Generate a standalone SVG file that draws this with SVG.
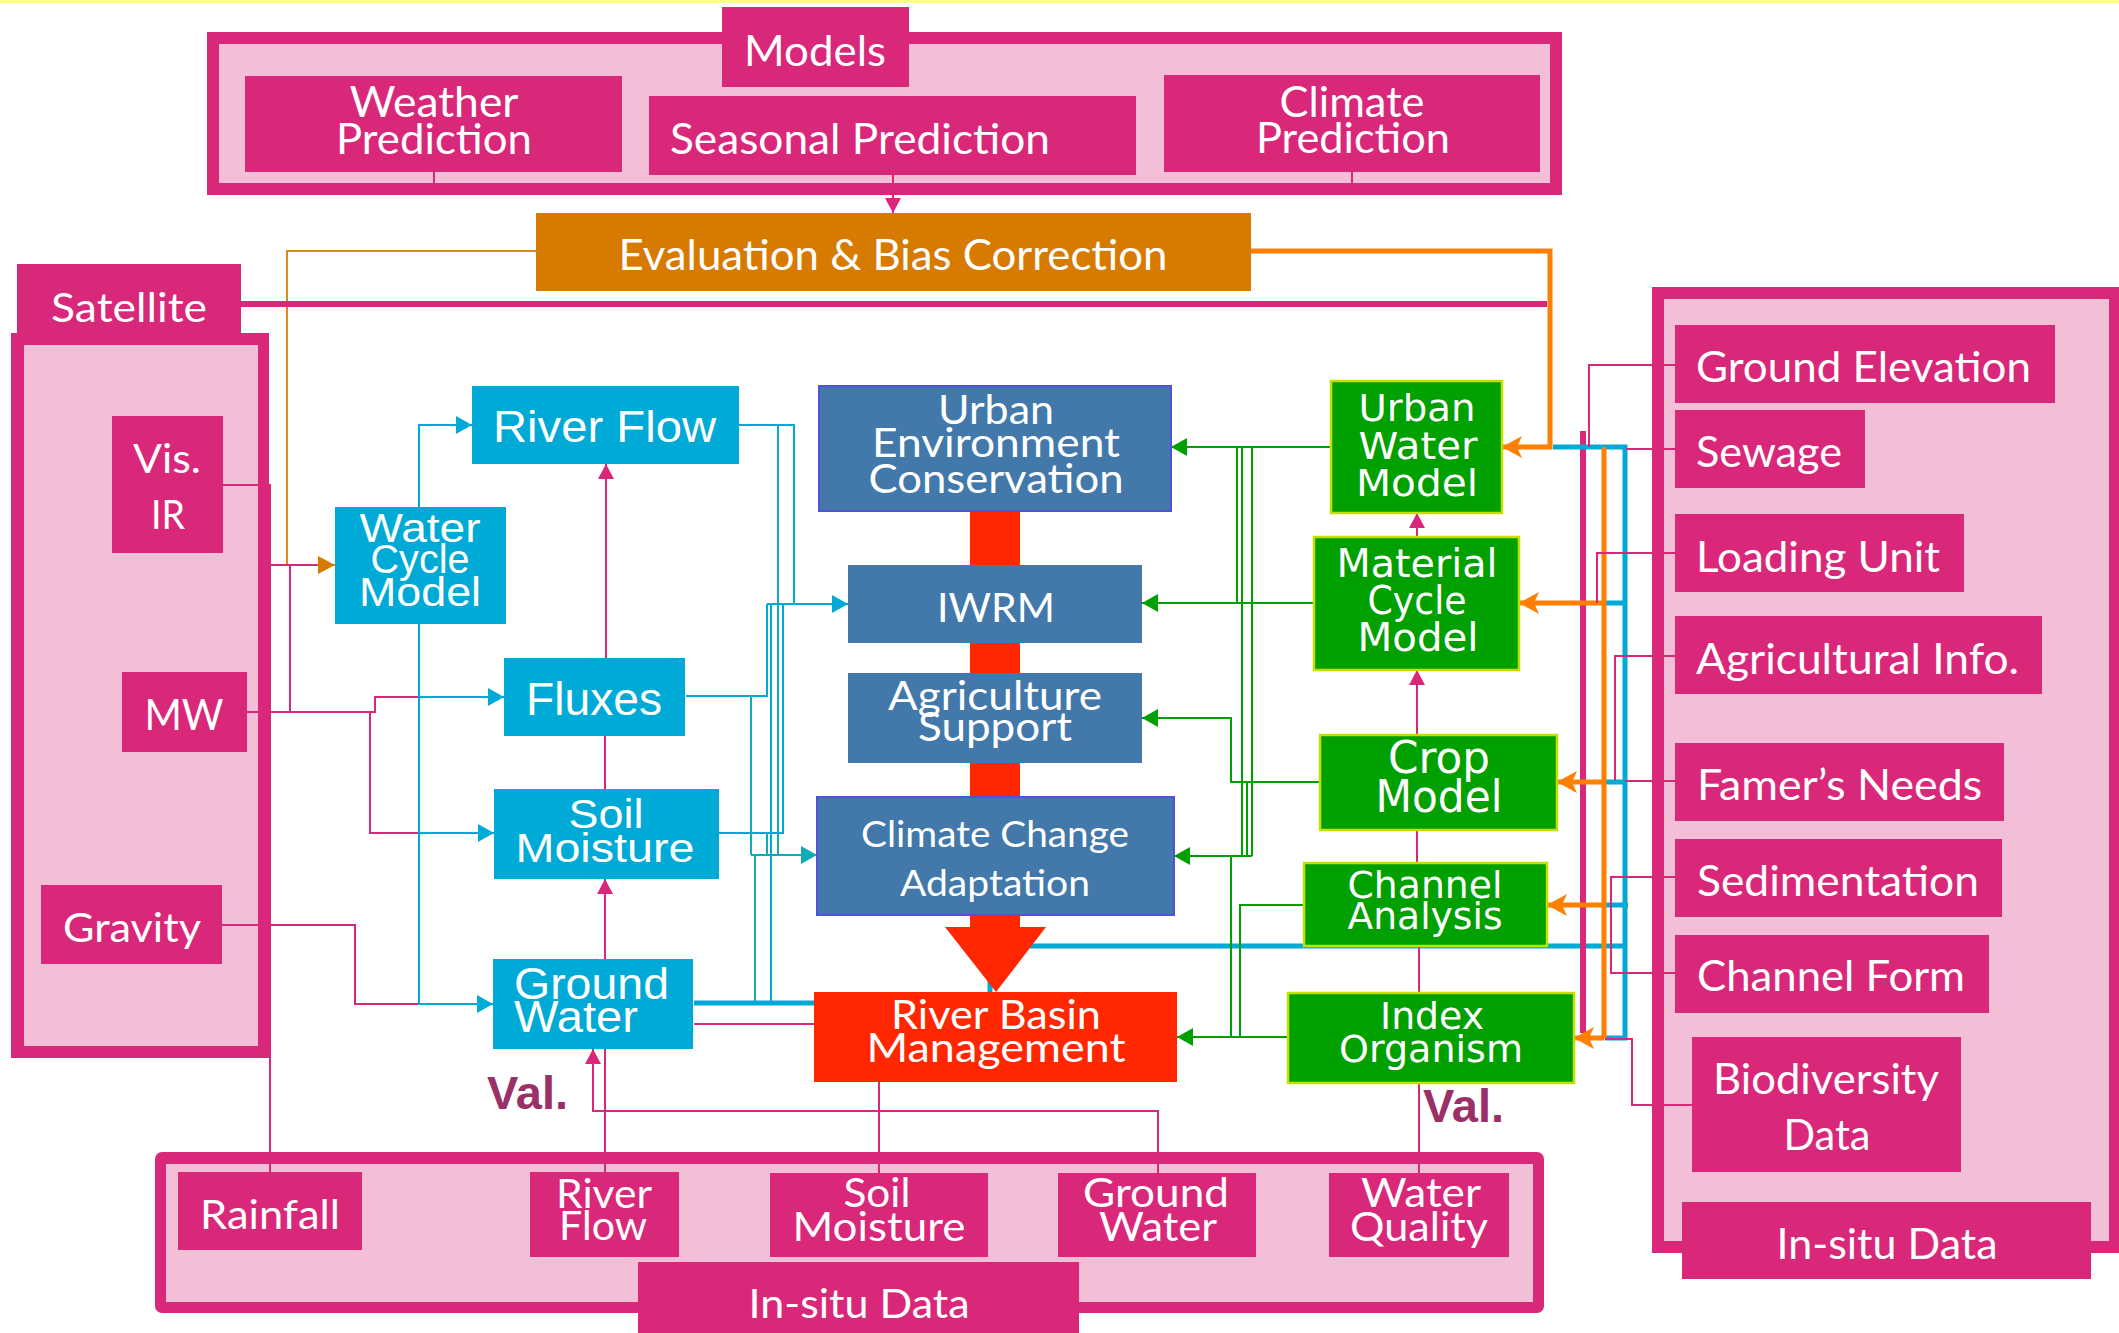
<svg xmlns="http://www.w3.org/2000/svg" width="2119" height="1333" viewBox="0 0 2119 1333">
<defs>
<style>
.mag{fill:#D9287A}
.pk{fill:#F3BFD6}
.cy{fill:#00AAD6}
.st{fill:#4279AA}
.stb{fill:#4279AA;stroke:#5252D8;stroke-width:2}
.gr{fill:#00A000;stroke:#C4E000;stroke-width:2.5}
.rd{fill:#FF2600}
.tw{fill:#fff;font-family:Lato,"Open Sans",sans-serif}
.ta{fill:#fff;font-family:"Liberation Sans",Arial,sans-serif}
.tv{fill:#fff;font-family:"DejaVu Sans",Verdana,sans-serif}
.val{fill:#9B3067;font-family:"Liberation Sans",Arial,sans-serif;font-weight:bold;font-size:47px}
.lp{fill:none;stroke:#D9287A;stroke-width:2}
.lb{fill:none;stroke:#00AAD6;stroke-width:2}
.lt{fill:none;stroke:#12AAB4;stroke-width:2}
.lg{fill:none;stroke:#00A000;stroke-width:2}
.lo{fill:none;stroke:#FF7F00;stroke-width:5}
.lpT{fill:none;stroke:#D9287A;stroke-width:6}
.lbT{fill:none;stroke:#00AAD6;stroke-width:5}
</style>
<marker id="aP" markerUnits="userSpaceOnUse" markerWidth="16" markerHeight="16" refX="15" refY="8" orient="auto"><path d="M0,0 L15,8 L0,16 Z" fill="#D9287A"/></marker>
<marker id="aB" markerUnits="userSpaceOnUse" markerWidth="17" markerHeight="18" refX="16" refY="9" orient="auto"><path d="M0,0 L16,9 L0,18 Z" fill="#00AAD6"/></marker>
<marker id="aT" markerUnits="userSpaceOnUse" markerWidth="17" markerHeight="18" refX="16" refY="9" orient="auto"><path d="M0,0 L16,9 L0,18 Z" fill="#12AAB4"/></marker>
<marker id="aG" markerUnits="userSpaceOnUse" markerWidth="17" markerHeight="18" refX="16" refY="9" orient="auto"><path d="M0,0 L16,9 L0,18 Z" fill="#00A000"/></marker>
<marker id="aO" markerUnits="userSpaceOnUse" markerWidth="21" markerHeight="22" refX="20" refY="11" orient="auto"><path d="M0,0 L20,11 L0,22 L5,11 Z" fill="#FF7F00"/></marker>
<marker id="aE" markerUnits="userSpaceOnUse" markerWidth="18" markerHeight="18" refX="17" refY="9" orient="auto"><path d="M0,0 L17,9 L0,18 Z" fill="#D67A00"/></marker>
</defs>

<!-- top strip -->
<rect x="0" y="0" width="2119" height="3" fill="#FFFF80"/>

<!-- container frames -->
<g id="models-frame">
<rect class="mag" x="207" y="32" width="1355" height="163"/>
<rect class="pk" x="219" y="44" width="1331" height="139"/>
</g>
<g id="satellite-frame">
<rect class="mag" x="11" y="333" width="258" height="725"/>
<rect class="pk" x="24" y="345" width="234" height="701"/>
</g>
<g id="insitu-bottom-frame">
<rect class="mag" x="155" y="1152" width="1389" height="161" rx="7"/>
<rect class="pk" x="166" y="1164" width="1367" height="138"/>
</g>
<g id="insitu-right-frame">
<rect class="mag" x="1652" y="287" width="480" height="966"/>
<rect class="pk" x="1664" y="299" width="445" height="942"/>
</g>

<!-- red backbone behind the management boxes -->
<rect class="rd" x="970" y="505" width="50" height="425"/>

<g id="connectors">
<!-- models to evaluation -->
<path class="lp" d="M434,172 V183"/>
<path class="lp" d="M1352,172 V183"/>
<path class="lp" d="M893,175 V213" marker-end="url(#aP)"/>
<!-- evaluation outputs -->
<path d="M536,251 H287 V565 H335" fill="none" stroke="#D98A20" stroke-width="2" marker-end="url(#aE)"/>
<path class="lo" d="M1251,251 H1550 V447 H1502" marker-end="url(#aO)"/>
<!-- satellite bus -->
<path class="lpT" d="M241,304 H1547" stroke-width="5"/>
<!-- satellite sensors -->
<path class="lp" d="M223,485 H270 V1172"/>
<path class="lp" d="M270,565 H318"/>
<path class="lp" d="M290,565 V712"/>
<path class="lp" d="M247,712 H375 V697 H419"/>
<path class="lp" d="M370,712 V833 H419"/>
<path class="lp" d="M222,925 H355 V1004 H419"/>
<!-- water cycle model distribution -->
<path class="lb" d="M419,507 V425 H472" marker-end="url(#aB)"/>
<path class="lb" d="M419,624 V1004 H493" marker-end="url(#aB)"/>
<path class="lb" d="M419,697 H504" marker-end="url(#aB)"/>
<path class="lb" d="M419,833 H494" marker-end="url(#aB)"/>
<!-- vertical chain through hydrology boxes -->
<path class="lp" d="M605,959 V879" marker-end="url(#aP)"/>
<path class="lp" d="M605,789 V736"/>
<path class="lp" d="M606,658 V464" marker-end="url(#aP)"/>
<path class="lp" d="M605,1172 V1049"/>
<path class="lp" d="M1158,1173 V1111 H593 V1049" marker-end="url(#aP)"/>
<!-- hydrology to management -->
<path class="lb" d="M739,425 H794 V604"/>
<path class="lt" d="M778,425 V855"/>
<path class="lb" d="M686,696 H767 V604"/>
<path class="lb" d="M719,833 H783 V604"/>
<path class="lt" d="M751,696 V855"/>
<path class="lt" d="M767,833 V855"/>
<path class="lt" d="M755,1003 V855"/>
<path class="lb" d="M771,1003 V604"/>
<path class="lb" d="M767,604 H848" marker-end="url(#aB)"/>
<path class="lt" d="M751,855 H817" marker-end="url(#aT)"/>
<path class="lbT" d="M694,1003 H814" stroke-width="4"/>
<path class="lp" d="M694,1024 H814"/>
<path class="lbT" d="M1625,946 H990 V992" stroke-width="4"/>
<!-- management to in-situ -->
<path class="lp" d="M879,1082 V1173"/>
<path class="lp" d="M1419,1083 V1173"/>
<!-- green model chain -->
<path class="lp" d="M1417,735 V670" marker-end="url(#aP)"/>
<path class="lp" d="M1417,537 V513" marker-end="url(#aP)"/>
<path class="lp" d="M1417,830 V863"/>
<path class="lp" d="M1419,946 V993"/>
<!-- green models to management -->
<path class="lg" d="M1331,447 H1171" marker-end="url(#aG)"/>
<path class="lg" d="M1237,447 V603"/>
<path class="lg" d="M1242,447 V856"/>
<path class="lg" d="M1252,447 V856"/>
<path class="lg" d="M1314,603 H1142" marker-end="url(#aG)"/>
<path class="lg" d="M1320,782 H1231 V718 H1142" marker-end="url(#aG)"/>
<path class="lg" d="M1247,782 V856"/>
<path class="lg" d="M1252,856 H1174" marker-end="url(#aG)"/>
<path class="lg" d="M1231,856 V1037"/>
<path class="lg" d="M1304,905 H1240 V1037"/>
<path class="lg" d="M1288,1037 H1177" marker-end="url(#aG)"/>
<!-- right-hand buses -->
<path class="lpT" d="M1583,431 V1033"/>
<path class="lbT" d="M1553,447 H1625 V1038 H1605"/>
<path class="lbT" d="M1605,603 H1625 M1605,782 H1625 M1605,905 H1628"/>
<path class="lo" d="M1604,447 V1038"/>
<path class="lo" d="M1604,603 H1519" marker-end="url(#aO)"/>
<path class="lo" d="M1604,782 H1557" marker-end="url(#aO)"/>
<path class="lo" d="M1604,905 H1547" marker-end="url(#aO)"/>
<path class="lo" d="M1604,1038 H1574" marker-end="url(#aO)"/>
<!-- right in-situ data links -->
<path class="lp" d="M1675,365 H1589 V447"/>
<path class="lp" d="M1675,449 H1626"/>
<path class="lp" d="M1675,553 H1597 V603"/>
<path class="lp" d="M1675,656 H1615 V780"/>
<path class="lp" d="M1675,781 H1625"/>
<path class="lp" d="M1675,877 H1611 V973 H1675"/>
<path class="lp" d="M1692,1105 H1632 V1039 H1605"/>
</g>

<!-- model boxes -->
<g id="models"><rect class="mag" x="722" y="7" width="187" height="80"/><text class="tw" x="815" y="66" font-size="42" text-anchor="middle" textLength="142" lengthAdjust="spacingAndGlyphs">Models</text></g>
<g id="weather"><rect class="mag" x="245" y="76" width="377" height="96"/><text class="tw" x="434" y="117" font-size="42" text-anchor="middle" textLength="169" lengthAdjust="spacingAndGlyphs">Weather</text><text class="tw" x="434" y="154" font-size="42" text-anchor="middle" textLength="196" lengthAdjust="spacingAndGlyphs">Prediction</text></g>
<g id="seasonal"><rect class="mag" x="649" y="96" width="487" height="79"/><text class="tw" x="860" y="154" font-size="42" text-anchor="middle" textLength="380" lengthAdjust="spacingAndGlyphs">Seasonal Prediction</text></g>
<g id="climate"><rect class="mag" x="1164" y="75" width="376" height="97"/><text class="tw" x="1352" y="117" font-size="42" text-anchor="middle" textLength="145" lengthAdjust="spacingAndGlyphs">Climate</text><text class="tw" x="1353" y="153" font-size="42" text-anchor="middle" textLength="194" lengthAdjust="spacingAndGlyphs">Prediction</text></g>
<g id="evaluation"><rect x="536" y="213" width="715" height="78" fill="#D67A00"/><text class="tw" x="893" y="270" font-size="42" text-anchor="middle" textLength="549" lengthAdjust="spacingAndGlyphs">Evaluation &amp; Bias Correction</text></g>

<!-- satellite sensors -->
<g id="satellite"><rect class="mag" x="17" y="264" width="224" height="70"/><text class="tw" x="129" y="322" font-size="40" text-anchor="middle" textLength="156" lengthAdjust="spacingAndGlyphs">Satellite</text></g>
<g id="vis-ir"><rect class="mag" x="112" y="416" width="111" height="137"/><text class="tw" x="167" y="473" font-size="40" text-anchor="middle" textLength="68" lengthAdjust="spacingAndGlyphs">Vis.</text><text class="tw" x="168" y="529" font-size="40" text-anchor="middle" textLength="34" lengthAdjust="spacingAndGlyphs">IR</text></g>
<g id="mw"><rect class="mag" x="122" y="672" width="125" height="80"/><text class="tw" x="184" y="730" font-size="42" text-anchor="middle" textLength="79" lengthAdjust="spacingAndGlyphs">MW</text></g>
<g id="gravity"><rect class="mag" x="41" y="885" width="181" height="79"/><text class="tw" x="132" y="942" font-size="40" text-anchor="middle" textLength="138" lengthAdjust="spacingAndGlyphs">Gravity</text></g>

<!-- hydrology boxes -->
<g id="water-cycle-model"><rect class="cy" x="335" y="507" width="171" height="117"/><text class="ta" x="420" y="542" font-size="40" text-anchor="middle" textLength="121" lengthAdjust="spacingAndGlyphs">Water</text><text class="ta" x="420" y="573" font-size="40" text-anchor="middle" textLength="99" lengthAdjust="spacingAndGlyphs">Cycle</text><text class="ta" x="420" y="606" font-size="40" text-anchor="middle" textLength="122" lengthAdjust="spacingAndGlyphs">Model</text></g>
<g id="river-flow"><rect class="cy" x="472" y="386" width="267" height="78"/><text class="ta" x="493" y="442" font-size="44" textLength="223" lengthAdjust="spacingAndGlyphs">River Flow</text></g>
<g id="fluxes"><rect class="cy" x="504" y="658" width="181" height="78"/><text class="ta" x="526" y="715" font-size="46" textLength="136" lengthAdjust="spacingAndGlyphs">Fluxes</text></g>
<g id="soil-moisture"><rect class="cy" x="494" y="789" width="225" height="90"/><text class="ta" x="606" y="828" font-size="41" text-anchor="middle" textLength="75" lengthAdjust="spacingAndGlyphs">Soil</text><text class="ta" x="605" y="862" font-size="41" text-anchor="middle" textLength="179" lengthAdjust="spacingAndGlyphs">Moisture</text></g>
<g id="ground-water"><rect class="cy" x="493" y="959" width="200" height="90"/><text class="ta" x="514" y="999" font-size="44" textLength="155" lengthAdjust="spacingAndGlyphs">Ground</text><text class="ta" x="514" y="1032" font-size="44" textLength="124" lengthAdjust="spacingAndGlyphs">Water</text></g>

<!-- management boxes -->
<g id="urban-environment"><rect class="stb" x="819" y="386" width="352" height="125"/><text class="tw" x="996" y="424" font-size="40" text-anchor="middle" textLength="116" lengthAdjust="spacingAndGlyphs">Urban</text><text class="tw" x="996" y="457" font-size="40" text-anchor="middle" textLength="248" lengthAdjust="spacingAndGlyphs">Environment</text><text class="tw" x="996" y="493" font-size="40" text-anchor="middle" textLength="255" lengthAdjust="spacingAndGlyphs">Conservation</text></g>
<g id="iwrm"><rect class="st" x="848" y="565" width="294" height="78"/><text class="tw" x="996" y="622" font-size="40" text-anchor="middle" textLength="118" lengthAdjust="spacingAndGlyphs">IWRM</text></g>
<g id="agriculture-support"><rect class="st" x="848" y="673" width="294" height="90"/><text class="tw" x="995" y="710" font-size="40" text-anchor="middle" textLength="214" lengthAdjust="spacingAndGlyphs">Agriculture</text><text class="tw" x="995" y="741" font-size="40" text-anchor="middle" textLength="154" lengthAdjust="spacingAndGlyphs">Support</text></g>
<g id="climate-change-adaptation"><rect class="stb" x="817" y="797" width="357" height="118"/><text class="tw" x="995" y="847" font-size="37" text-anchor="middle" textLength="268" lengthAdjust="spacingAndGlyphs">Climate Change</text><text class="tw" x="995" y="896" font-size="37" text-anchor="middle" textLength="190" lengthAdjust="spacingAndGlyphs">Adaptation</text></g>
<g id="red-arrow"><path class="rd" d="M945,927 H1046 L996,992 Z"/></g>
<g id="river-basin-management"><rect class="rd" x="814" y="992" width="363" height="90"/><text class="tw" x="996" y="1029" font-size="40" text-anchor="middle" textLength="210" lengthAdjust="spacingAndGlyphs">River Basin</text><text class="tw" x="996" y="1062" font-size="40" text-anchor="middle" textLength="259" lengthAdjust="spacingAndGlyphs">Management</text></g>

<!-- green models -->
<g id="urban-water-model"><rect class="gr" x="1331" y="381" width="171" height="132"/><text class="tv" x="1417" y="421" font-size="38" text-anchor="middle" textLength="117" lengthAdjust="spacingAndGlyphs">Urban</text><text class="tv" x="1418" y="459" font-size="38" text-anchor="middle" textLength="119" lengthAdjust="spacingAndGlyphs">Water</text><text class="tv" x="1417" y="496" font-size="38" text-anchor="middle" textLength="122" lengthAdjust="spacingAndGlyphs">Model</text></g>
<g id="material-cycle-model"><rect class="gr" x="1314" y="537" width="205" height="133"/><text class="tv" x="1417" y="577" font-size="39" text-anchor="middle" textLength="161" lengthAdjust="spacingAndGlyphs">Material</text><text class="tv" x="1417" y="614" font-size="39" text-anchor="middle" textLength="99" lengthAdjust="spacingAndGlyphs">Cycle</text><text class="tv" x="1418" y="651" font-size="39" text-anchor="middle" textLength="121" lengthAdjust="spacingAndGlyphs">Model</text></g>
<g id="crop-model"><rect class="gr" x="1320" y="735" width="237" height="95"/><text class="tv" x="1439" y="773" font-size="44" text-anchor="middle" textLength="102" lengthAdjust="spacingAndGlyphs">Crop</text><text class="tv" x="1439" y="812" font-size="44" text-anchor="middle" textLength="127" lengthAdjust="spacingAndGlyphs">Model</text></g>
<g id="channel-analysis"><rect class="gr" x="1304" y="863" width="243" height="83"/><text class="tv" x="1425" y="898" font-size="38" text-anchor="middle" textLength="155" lengthAdjust="spacingAndGlyphs">Channel</text><text class="tv" x="1425" y="929" font-size="38" text-anchor="middle" textLength="155" lengthAdjust="spacingAndGlyphs">Analysis</text></g>
<g id="index-organism"><rect class="gr" x="1288" y="993" width="286" height="90"/><text class="tv" x="1432" y="1029" font-size="38" text-anchor="middle" textLength="104" lengthAdjust="spacingAndGlyphs">Index</text><text class="tv" x="1431" y="1062" font-size="38" text-anchor="middle" textLength="184" lengthAdjust="spacingAndGlyphs">Organism</text></g>

<!-- validation labels -->
<text class="val" x="487" y="1109" textLength="81" lengthAdjust="spacingAndGlyphs">Val.</text>
<text class="val" x="1423" y="1122" textLength="81" lengthAdjust="spacingAndGlyphs">Val.</text>

<!-- in-situ data, bottom -->
<g id="rainfall"><rect class="mag" x="178" y="1172" width="184" height="78"/><text class="tw" x="270" y="1229" font-size="40" text-anchor="middle" textLength="140" lengthAdjust="spacingAndGlyphs">Rainfall</text></g>
<g id="river-flow-obs"><rect class="mag" x="530" y="1172" width="149" height="85"/><text class="tw" x="604" y="1208" font-size="40" text-anchor="middle" textLength="96" lengthAdjust="spacingAndGlyphs">River</text><text class="tw" x="603" y="1240" font-size="40" text-anchor="middle" textLength="88" lengthAdjust="spacingAndGlyphs">Flow</text></g>
<g id="soil-moisture-obs"><rect class="mag" x="770" y="1173" width="218" height="84"/><text class="tw" x="877" y="1207" font-size="40" text-anchor="middle" textLength="67" lengthAdjust="spacingAndGlyphs">Soil</text><text class="tw" x="879" y="1241" font-size="40" text-anchor="middle" textLength="173" lengthAdjust="spacingAndGlyphs">Moisture</text></g>
<g id="ground-water-obs"><rect class="mag" x="1058" y="1173" width="198" height="84"/><text class="tw" x="1156" y="1207" font-size="40" text-anchor="middle" textLength="146" lengthAdjust="spacingAndGlyphs">Ground</text><text class="tw" x="1158" y="1241" font-size="40" text-anchor="middle" textLength="118" lengthAdjust="spacingAndGlyphs">Water</text></g>
<g id="water-quality"><rect class="mag" x="1329" y="1173" width="180" height="84"/><text class="tw" x="1421" y="1207" font-size="40" text-anchor="middle" textLength="120" lengthAdjust="spacingAndGlyphs">Water</text><text class="tw" x="1419" y="1241" font-size="40" text-anchor="middle" textLength="138" lengthAdjust="spacingAndGlyphs">Quality</text></g>
<g id="insitu-bottom-tab"><rect class="mag" x="638" y="1262" width="441" height="75"/><text class="tw" x="859" y="1318" font-size="40" text-anchor="middle" textLength="221" lengthAdjust="spacingAndGlyphs">In-situ Data</text></g>

<!-- in-situ data, right -->
<g id="ground-elevation"><rect class="mag" x="1675" y="325" width="380" height="78"/><text class="tw" x="1696" y="382" font-size="43" textLength="335" lengthAdjust="spacingAndGlyphs">Ground Elevation</text></g>
<g id="sewage"><rect class="mag" x="1675" y="410" width="190" height="78"/><text class="tw" x="1696" y="467" font-size="43" textLength="146" lengthAdjust="spacingAndGlyphs">Sewage</text></g>
<g id="loading-unit"><rect class="mag" x="1675" y="514" width="289" height="78"/><text class="tw" x="1696" y="572" font-size="43" textLength="244" lengthAdjust="spacingAndGlyphs">Loading Unit</text></g>
<g id="agricultural-info"><rect class="mag" x="1675" y="616" width="367" height="78"/><text class="tw" x="1696" y="674" font-size="43" textLength="323" lengthAdjust="spacingAndGlyphs">Agricultural Info.</text></g>
<g id="farmers-needs"><rect class="mag" x="1675" y="743" width="329" height="78"/><text class="tw" x="1697" y="800" font-size="42" textLength="285" lengthAdjust="spacingAndGlyphs">Famer’s Needs</text></g>
<g id="sedimentation"><rect class="mag" x="1675" y="839" width="327" height="78"/><text class="tw" x="1697" y="896" font-size="42" textLength="282" lengthAdjust="spacingAndGlyphs">Sedimentation</text></g>
<g id="channel-form"><rect class="mag" x="1675" y="935" width="314" height="78"/><text class="tw" x="1697" y="991" font-size="42" textLength="268" lengthAdjust="spacingAndGlyphs">Channel Form</text></g>
<g id="biodiversity-data"><rect class="mag" x="1692" y="1037" width="269" height="135"/><text class="tw" x="1826" y="1094" font-size="42" text-anchor="middle" textLength="226" lengthAdjust="spacingAndGlyphs">Biodiversity</text><text class="tw" x="1827" y="1150" font-size="42" text-anchor="middle" textLength="87" lengthAdjust="spacingAndGlyphs">Data</text></g>
<g id="insitu-right-tab"><rect class="mag" x="1682" y="1202" width="409" height="77"/><text class="tw" x="1887" y="1259" font-size="42" text-anchor="middle" textLength="221" lengthAdjust="spacingAndGlyphs">In-situ Data</text></g>
</svg>
